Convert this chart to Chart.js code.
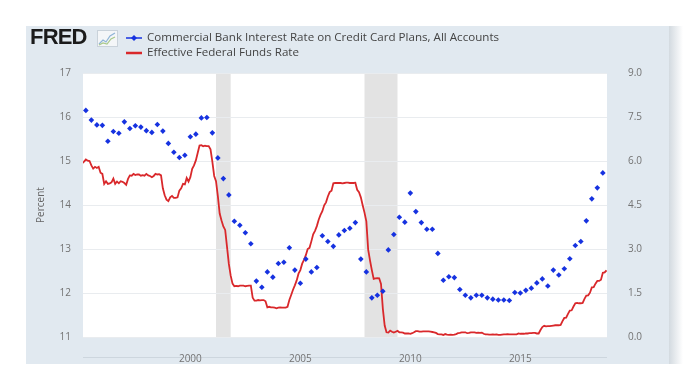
<!DOCTYPE html>
<html>
<head>
<meta charset="utf-8">
<script src="https://cdn.jsdelivr.net/npm/chart.js@4"></script>
<style>
  html, body { margin: 0; padding: 0; background: #fff; }
  #wrap { position: relative; width: 683px; height: 381px; overflow: hidden; }
  #panel { position: absolute; left: 26px; top: 26px; width: 643px; height: 338px; background: #e1e9f0; }
  #shadow { position: absolute; left: 669px; top: 26px; width: 14px; height: 338px;
    background: linear-gradient(to right, #d3dae0, #ffffff); }
  #axisline { position: absolute; left: 83px; top: 357px; width: 524px; height: 1px; background: #cdd6de; }
  canvas { position: absolute; left: 0; top: 0; }
  .logo { position: absolute; left: 30px; top: 26px; font: bold 22px "Liberation Sans", Arial, sans-serif;
    line-height: 22px; letter-spacing: -0.8px; color: #1b1b1b; }
  .logo-icon { position: absolute; left: 97px; top: 30px; }
  .leg { position: absolute; left: 126px; font: 11.6px "Open Sans", sans-serif; color: #444; white-space: nowrap; }
  .leg svg { vertical-align: middle; margin-right: 5px; }
</style>
</head>
<body>
<div id="wrap">
  <div id="panel"></div>
  <div id="shadow"></div>
  <div id="axisline"></div>
  <canvas id="chart" width="683" height="381"></canvas>
  <div class="logo">FRED</div>
  <svg class="logo-icon" width="21" height="17" viewBox="0 0 21 17">
    <rect x="0.5" y="0.5" width="20" height="16" fill="#f4f6f8" stroke="#c9d2da"/>
    <polyline points="2,14 6,10 9,12 13,6 18,3" fill="none" stroke="#8fb4d6" stroke-width="1.2"/>
    <polyline points="2,15 6,13 10,14 14,9 18,7" fill="none" stroke="#a9c98a" stroke-width="1.2"/>
  </svg>
  <div class="leg" id="leg1" style="top:29px"><svg width="16" height="10"><line x1="0" y1="5" x2="16" y2="5" stroke="#1632e0" stroke-width="1.5"/><path d="M8 2 L11 5 L8 8 L5 5 Z" fill="#1632e0"/></svg>Commercial Bank Interest Rate on Credit Card Plans, All Accounts</div>
  <div class="leg" id="leg2" style="top:44px"><svg width="16" height="10"><line x1="0" y1="5" x2="16" y2="5" stroke="#d9282b" stroke-width="2.5"/></svg>Effective Federal Funds Rate</div>
</div>

<script>
// Quarterly credit card rate (left axis), first obs May 1995
const ccStart = 1995.25;
const creditCardRate = [
  16.15, 15.93, 15.82, 15.81, 15.45, 15.67, 15.63, 15.89, 15.74, 15.80,
  15.77, 15.69, 15.65, 15.83, 15.68, 15.40, 15.20, 15.08, 15.13, 15.55,
  15.61, 15.98, 15.99, 15.64, 15.07, 14.60, 14.23, 13.63, 13.54, 13.37,
  13.12, 12.27, 12.13, 12.48, 12.36, 12.67, 12.70, 13.03, 12.52, 12.22,
  12.77, 12.48, 12.58, 13.30, 13.17, 13.06, 13.32, 13.42, 13.47, 13.60,
  12.77, 12.48, 11.89, 11.95, 12.04, 12.98, 13.33, 13.72, 13.61, 14.27,
  13.85, 13.60, 13.45, 13.45, 12.90, 12.29, 12.37, 12.35, 12.08, 11.95,
  11.89, 11.95, 11.95, 11.89, 11.86, 11.84, 11.84, 11.83, 12.01, 12.00,
  12.06, 12.11, 12.23, 12.32, 12.16, 12.52, 12.41, 12.55, 12.78, 13.08,
  13.17, 13.64, 14.14, 14.39, 14.73
];

// Monthly effective fed funds rate (right axis), first obs Feb 1995
const ffStart = 1995 + 1 / 12;
const fedFundsRate = [
  5.92, 5.98, 6.05, 6.01, 6.00, 5.85, 5.74, 5.80, 5.76, 5.80, 5.60,
  5.56, 5.22, 5.31, 5.22, 5.24, 5.27, 5.40, 5.22, 5.30, 5.24, 5.31, 5.29,
  5.25, 5.19, 5.39, 5.51, 5.50, 5.56, 5.52, 5.54, 5.54, 5.50, 5.52, 5.50,
  5.56, 5.51, 5.49, 5.45, 5.49, 5.56, 5.54, 5.55, 5.51, 5.07, 4.83, 4.68,
  4.63, 4.76, 4.81, 4.74, 4.74, 4.76, 4.99, 5.07, 5.22, 5.20, 5.42, 5.30,
  5.45, 5.73, 5.85, 6.02, 6.27, 6.53, 6.54, 6.50, 6.52, 6.51, 6.51, 6.40,
  5.98, 5.49, 5.31, 4.80, 4.21, 3.97, 3.77, 3.65, 3.07, 2.49, 2.09, 1.82,
  1.73, 1.74, 1.73, 1.75, 1.75, 1.75, 1.73, 1.74, 1.75, 1.75, 1.34, 1.24,
  1.24, 1.26, 1.25, 1.26, 1.26, 1.22, 1.01, 1.03, 1.01, 1.01, 1.00, 0.98,
  1.00, 1.01, 1.00, 1.00, 1.00, 1.03, 1.26, 1.43, 1.61, 1.76, 1.93, 2.16,
  2.28, 2.50, 2.63, 2.79, 3.00, 3.04, 3.26, 3.50, 3.62, 3.78, 4.00, 4.16,
  4.29, 4.49, 4.59, 4.79, 4.94, 4.99, 5.24, 5.25, 5.25, 5.25, 5.25, 5.24,
  5.25, 5.26, 5.26, 5.25, 5.25, 5.25, 5.26, 5.02, 4.94, 4.76, 4.49, 4.24,
  3.94, 2.98, 2.61, 2.28, 1.98, 2.00, 2.01, 2.00, 1.81, 0.97, 0.39, 0.16,
  0.15, 0.22, 0.18, 0.15, 0.18, 0.21, 0.16, 0.16, 0.15, 0.12, 0.12, 0.12,
  0.11, 0.13, 0.16, 0.20, 0.20, 0.18, 0.18, 0.19, 0.19, 0.19, 0.19, 0.18,
  0.17, 0.16, 0.14, 0.10, 0.09, 0.09, 0.07, 0.10, 0.08, 0.07, 0.08, 0.07,
  0.08, 0.10, 0.13, 0.14, 0.16, 0.16, 0.16, 0.13, 0.14, 0.16, 0.16, 0.16,
  0.14, 0.15, 0.14, 0.15, 0.11, 0.09, 0.09, 0.08, 0.08, 0.09, 0.08, 0.09,
  0.07, 0.07, 0.08, 0.09, 0.09, 0.10, 0.09, 0.09, 0.09, 0.09, 0.09, 0.12,
  0.11, 0.11, 0.11, 0.12, 0.12, 0.13, 0.13, 0.14, 0.14, 0.12, 0.12, 0.24,
  0.34, 0.38, 0.36, 0.37, 0.37, 0.38, 0.39, 0.40, 0.40, 0.40, 0.41, 0.54,
  0.65, 0.66, 0.79, 0.90, 0.91, 1.04, 1.15, 1.16, 1.15, 1.15, 1.16, 1.30,
  1.41, 1.42, 1.51, 1.69, 1.70, 1.82, 1.91, 1.91, 1.95, 2.19, 2.20, 2.27
];

// NBER recessions (shaded), as decimal years
const recessions = [[2001 + 2 / 12, 2001 + 10 / 12], [2007 + 11 / 12, 2009 + 5 / 12]];

const yearTicks = [2000, 2005, 2010, 2015];
const xMin = 1995.12, xMax = 2018.94;

const BLUE = '#1632e0';
const RED = '#d9282b';
const TICK_COLOR = '#737373';

const ccPoints = creditCardRate.map((v, i) => ({ x: ccStart + i / 4, y: v }));
const ffPoints = fedFundsRate.map((v, i) => ({ x: ffStart + i / 12, y: v }));

// White plot area plus grey recession bars, under the grid
const plotBackground = {
  id: 'plotBackground',
  beforeDraw(chart) {
    const { ctx, chartArea: a, scales } = chart;
    ctx.save();
    ctx.fillStyle = '#ffffff';
    ctx.fillRect(a.left, a.top, a.right - a.left, a.bottom - a.top);
    ctx.fillStyle = '#e3e3e3';
    recessions.forEach(([s, e]) => {
      const x0 = scales.x.getPixelForValue(s);
      const x1 = scales.x.getPixelForValue(e);
      ctx.fillRect(x0, a.top, x1 - x0, a.bottom - a.top);
    });
    ctx.restore();
  }
};

new Chart(document.getElementById('chart'), {
  type: 'scatter',
  data: {
    datasets: [
      {
        label: 'Commercial Bank Interest Rate on Credit Card Plans, All Accounts',
        data: ccPoints,
        yAxisID: 'y',
        showLine: false,
        pointStyle: 'rectRot',
        pointRadius: 2.8,
        pointBorderWidth: 0,
        backgroundColor: BLUE,
        borderColor: BLUE
      },
      {
        label: 'Effective Federal Funds Rate',
        data: ffPoints,
        yAxisID: 'y2',
        showLine: true,
        borderColor: RED,
        borderWidth: 1.8,
        pointRadius: 0,
        tension: 0
      }
    ]
  },
  options: {
    responsive: false,
    animation: false,
    layout: { padding: { left: 26, top: 73, right: 0, bottom: 0 } },
    plugins: { legend: { display: false }, tooltip: { enabled: false } },
    scales: {
      x: {
        type: 'linear',
        min: xMin,
        max: xMax,
        grid: { display: false },
        border: { display: false },
        afterBuildTicks: (s) => { s.ticks = yearTicks.map(v => ({ value: v })); },
        afterFit: (s) => { s.height = 44; },
        ticks: {
          padding: 8,
          color: TICK_COLOR,
          font: { family: 'Open Sans', size: 10 },
          maxRotation: 0,
          callback: (v) => String(v)
        }
      },
      y: {
        position: 'left',
        min: 11,
        max: 17,
        afterFit: (s) => { s.width = 57; },
        grid: { color: '#e9ecef', drawTicks: false },
        border: { display: false },
        ticks: { stepSize: 1, padding: 12, color: TICK_COLOR, font: { family: 'Open Sans', size: 10 } },
        title: {
          display: true,
          text: 'Percent',
          color: '#666',
          font: { family: 'Open Sans', size: 10 },
          padding: { top: 9, bottom: 0 }
        }
      },
      y2: {
        position: 'right',
        min: 0,
        max: 9,
        afterFit: (s) => { s.width = 76; },
        grid: { display: false },
        border: { display: false },
        ticks: {
          stepSize: 1.5,
          padding: 13,
          color: TICK_COLOR,
          font: { family: 'Open Sans', size: 10 },
          callback: (v) => v.toFixed(1)
        }
      }
    }
  },
  plugins: [plotBackground]
});
</script>
</body>
</html>
